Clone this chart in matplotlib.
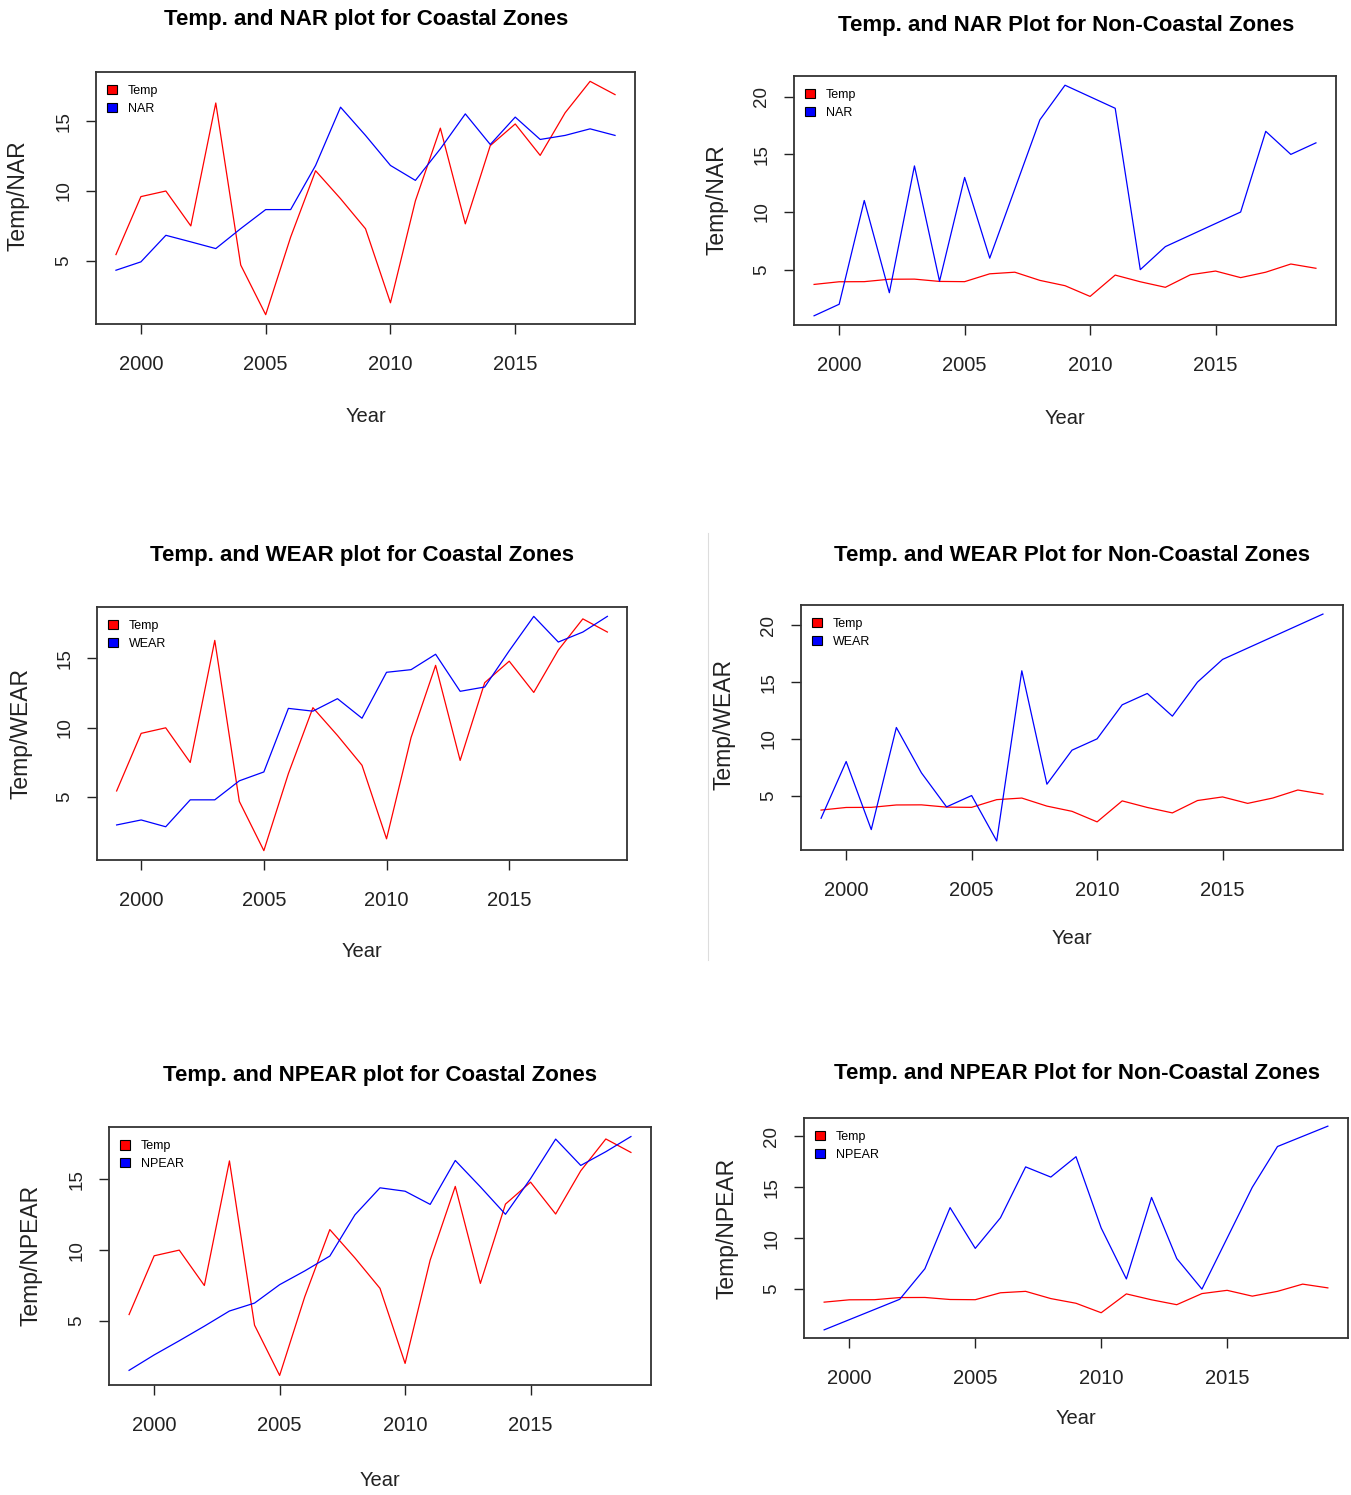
import matplotlib.pyplot as plt
from matplotlib.patches import Patch
from matplotlib.lines import Line2D

plt.rcParams['font.family'] = ['Liberation Sans', 'DejaVu Sans']

W, H = 1351, 1495

years = list(range(1999, 2020))
xticks = [2000, 2005, 2010, 2015]

# temperature series (same in every coastal / non-coastal panel)
temp_coastal = [5.45, 9.6, 10.0, 7.5, 16.3, 4.7, 1.15, 6.7, 11.45, 9.45, 7.3,
                2.0, 9.3, 14.5, 7.65, 13.25, 14.8, 12.55, 15.6, 17.85, 16.9]
temp_noncoastal = [3.72, 3.95, 3.96, 4.17, 4.18, 3.98, 3.96, 4.64, 4.78, 4.07, 3.61,
                   2.68, 4.53, 3.95, 3.47, 4.56, 4.88, 4.31, 4.78, 5.49, 5.12]

nar_coastal = [4.33, 4.93, 6.83, 6.36, 5.88, 7.31, 8.67, 8.67, 11.83, 16.0, 13.98,
               11.83, 10.76, 13.02, 15.52, 13.33, 15.29, 13.69, 13.98, 14.45, 13.98]
nar_noncoastal = [1, 2, 11, 3, 14, 4, 13, 6, 12, 18, 21, 20, 19, 5, 7, 8, 9, 10, 17, 15, 16]

wear_coastal = [3.0, 3.36, 2.87, 4.81, 4.81, 6.18, 6.82, 11.4, 11.2, 12.1, 10.69,
                14.0, 14.19, 15.3, 12.63, 12.94, 15.55, 18.03, 16.18, 16.9, 18.03]
wear_noncoastal = [3, 8, 2, 11, 7, 4, 5, 1, 16, 6, 9, 10, 13, 14, 12, 15, 17, 18, 19, 20, 21]

npear_coastal = [1.51, 2.6, 3.6, 4.63, 5.7, 6.26, 7.56, 8.53, 9.58, 12.49, 14.4,
                 14.16, 13.23, 16.33, 14.47, 12.53, 15.05, 17.84, 15.98, 16.95, 18.02]
npear_noncoastal = [1, 2, 3, 4, 7, 13, 9, 12, 17, 16, 18, 11, 6, 14, 8, 5, 10, 15, 19, 20, 21]

# (name, series, temp, yticks, title, box px [left, top, right, bottom], title xy, xlabel xy, ylabel xy)
panels = [
    ("NAR", nar_coastal, temp_coastal, [5, 10, 15],
     "Temp. and NAR plot for Coastal Zones", (96, 72, 635, 324), (366, 20), (366, 416), (18, 196)),
    ("NAR", nar_noncoastal, temp_noncoastal, [5, 10, 15, 20],
     "Temp. and NAR Plot for Non-Coastal Zones", (794, 76, 1336, 325), (1066, 25), (1065, 418), (717, 200)),
    ("WEAR", wear_coastal, temp_coastal, [5, 10, 15],
     "Temp. and WEAR plot for Coastal Zones", (97, 607, 627, 860), (362, 556), (362, 952), (21, 733)),
    ("WEAR", wear_noncoastal, temp_noncoastal, [5, 10, 15, 20],
     "Temp. and WEAR Plot for Non-Coastal Zones", (801, 605, 1343, 850), (1072, 555), (1072, 939), (724, 725)),
    ("NPEAR", npear_coastal, temp_coastal, [5, 10, 15],
     "Temp. and NPEAR plot for Coastal Zones", (109, 1127, 651, 1385), (380, 1075), (380, 1480), (31, 1255)),
    ("NPEAR", npear_noncoastal, temp_noncoastal, [5, 10, 15, 20],
     "Temp. and NPEAR Plot for Non-Coastal Zones", (804, 1118, 1348, 1338), (1077, 1073), (1076, 1418), (727, 1228)),
]

fig = plt.figure(figsize=(W / 100, H / 100), dpi=100)


def fx(px):
    return px / W


def fy(py):
    return 1 - py / H


for name, series, temp, yticks, title, box, tpos, xlpos, ylpos in panels:
    l, t, r, b = box
    ax = fig.add_axes([fx(l), fy(b), fx(r - l), (b - t) / H])
    ax.plot(years, temp, color='#ff0000', lw=0.9)
    ax.plot(years, series, color='#0000ff', lw=0.9)
    ax.margins(x=0.04, y=0.04)
    ax.set_xticks(xticks)
    ax.set_yticks(yticks)
    ax.tick_params(axis='x', length=7, width=1, pad=15, labelsize=14.5, colors='#222222')
    ax.tick_params(axis='y', length=7, width=1, pad=10, labelsize=13.5, colors='#222222',
                   labelrotation=90)
    for lab in ax.get_yticklabels():
        lab.set_verticalalignment('center')
    for sp in ax.spines.values():
        sp.set_linewidth(1.3)
        sp.set_color('#333333')

    handles = [Patch(facecolor='#ff0000', edgecolor='black', lw=0.8, label='Temp'),
               Patch(facecolor='#0000ff', edgecolor='black', lw=0.8, label=name)]
    ax.legend(handles=handles, loc='upper left', bbox_to_anchor=(0.0, 0.992),
              frameon=False, fontsize=9,
              handlelength=0.75, handleheight=0.75, handletextpad=0.9,
              labelspacing=0.46, borderaxespad=0.5)

    fig.text(fx(tpos[0]), fy(tpos[1]), title, ha='center', va='center',
             fontsize=16, fontweight='bold')
    fig.text(fx(xlpos[0]), fy(xlpos[1]), "Year", ha='center', va='center',
             fontsize=14.5, color='#222222')
    fig.text(fx(ylpos[0]), fy(ylpos[1]), "Temp/" + name, ha='center', va='center',
             fontsize=16.5, rotation=90, color='#222222')

# faint separator left of the middle-right panel
fig.add_artist(Line2D([fx(708), fx(708)], [fy(533), fy(960)],
                      transform=fig.transFigure, color='#dddddd', lw=0.8))

fig.savefig('out.png', dpi=100)
